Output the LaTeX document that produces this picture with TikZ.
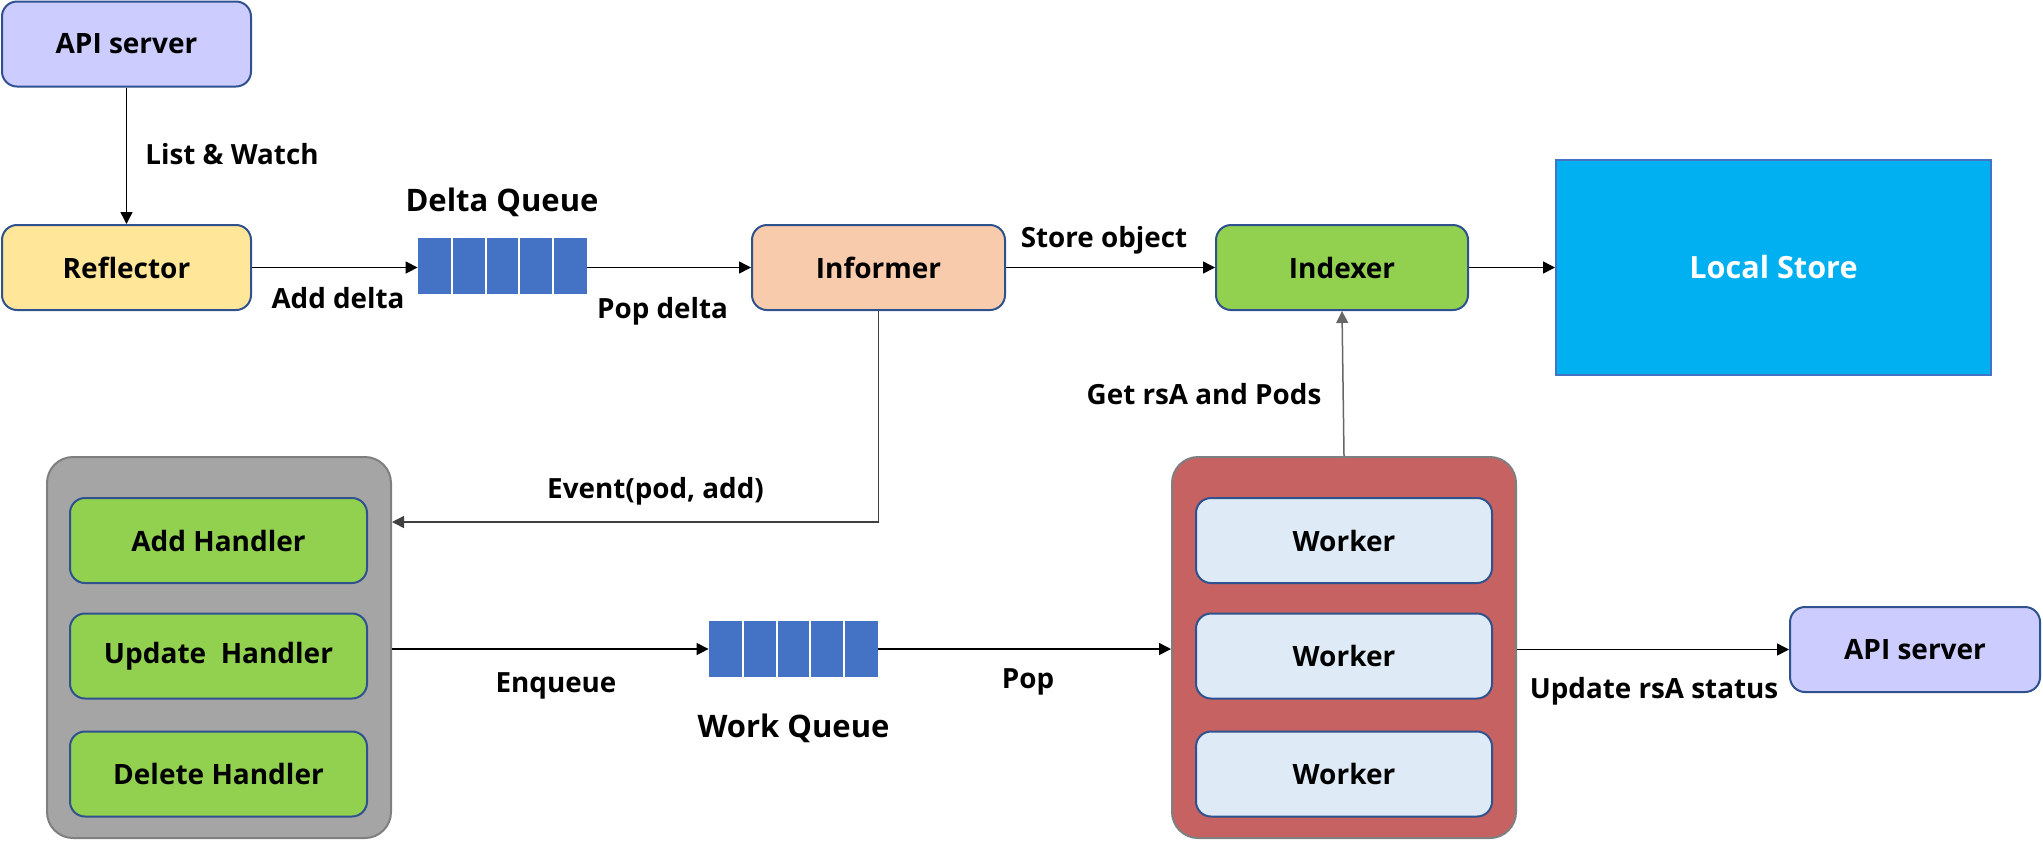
\documentclass[tikz,border=0pt]{standalone}
\usepackage{fontspec}
\setmainfont{Open Sans}
\usetikzlibrary{arrows.meta,calc}
\definecolor{apiF}{HTML}{CCCCFF}
\definecolor{reflF}{HTML}{FFE699}
\definecolor{infF}{HTML}{F8CBAD}
\definecolor{grnF}{HTML}{92D050}
\definecolor{storeF}{HTML}{00B0F0}
\definecolor{qF}{HTML}{4472C4}
\definecolor{bdr}{HTML}{2F528F}
\definecolor{grayF}{HTML}{A5A5A5}
\definecolor{redF}{HTML}{C66262}
\definecolor{contB}{HTML}{7F7F7F}
\definecolor{wrkF}{HTML}{DEEBF7}
\tikzset{
  box/.style={draw=bdr, line width=1pt, rounded corners=7.5pt, inner sep=0pt,
    font=\fontsize{14}{17}\selectfont\bfseries, minimum height=42.5pt},
  cont/.style={draw=contB, line width=1pt, rounded corners=13pt, inner sep=0pt},
  queue/.style={fill=qF, inner sep=0pt, minimum width=84.5pt, minimum height=28pt},
  lbl/.style={anchor=base, inner sep=0pt, font=\fontsize{13.9}{16}\selectfont\bfseries},
  ttl/.style={anchor=base, inner sep=0pt, font=\fontsize{15.5}{18}\selectfont\bfseries},
  arr/.style={draw=black, line width=0.75pt, -{Triangle[length=6pt,width=6pt]}},
}
\begin{document}
\begin{tikzpicture}[x=0.5pt,y=-0.5pt]
\useasboundingbox (0,0) rectangle (2043,842);
% top row
\node[box, fill=apiF, minimum width=124.5pt] (api1) at (126.5,44) {API server};
\node[box, fill=reflF, minimum width=124.5pt] (refl) at (126.5,267.5) {Reflector};
\node[queue] (dq) at (502.5,266) {};
\node[box, fill=infF, minimum width=126.5pt] (inf) at (878.5,267.5) {Informer};
\node[box, fill=grnF, minimum width=126pt] (idx) at (1342,267.5) {Indexer};
\node[draw=qF, line width=1pt, fill=storeF, inner sep=0pt, minimum width=217.5pt, minimum height=107.5pt,
  text=white, font=\fontsize{15.3}{18}\selectfont\bfseries] (store) at (1773.5,267.5) {Local Store};
% containers
\node[cont, fill=grayF, minimum width=172pt, minimum height=190.5pt] (gray) at (219,647.5) {};
\node[box, fill=grnF, minimum width=148.5pt] (h1) at (218.5,540.5) {Add Handler};
\node[box, fill=grnF, minimum width=148.5pt] (h2) at (218.5,656) {Update\ \ Handler};
\node[box, fill=grnF, minimum width=148.5pt] (h3) at (218.5,774) {Delete Handler};
\node[queue] (wq) at (793.5,649) {};
\node[cont, fill=redF, minimum width=172pt, minimum height=190.5pt] (red) at (1344,647.5) {};
\node[box, fill=wrkF, minimum width=148pt] (w1) at (1344,540.5) {Worker};
\node[box, fill=wrkF, minimum width=148pt] (w2) at (1344,656) {Worker};
\node[box, fill=wrkF, minimum width=148pt] (w3) at (1344,774) {Worker};
\node[box, fill=apiF, minimum width=125pt] (api2) at (1915,649.5) {API server};
% queue cell separators
\foreach \q in {dq,wq}{
  \foreach \i in {1,...,4}{
    \draw[white, line width=1pt] ($(\q.north west)!\i/5!(\q.north east)$) -- ($(\q.south west)!\i/5!(\q.south east)$);
  }
}
% labels
\node[lbl] (lw) at (232,164) {List \& Watch};
\node[lbl] (ad) at (338,308) {Add delta};
\node[ttl] (dqt) at (502,211) {Delta Queue};
\node[lbl] (pd) at (662.5,318) {Pop delta};
\node[lbl] (so) at (1104,247) {Store object};
\node[lbl] (gr) at (1204,404) {Get rsA and Pods};
\node[lbl] (ev) at (655.5,498) {Event(pod, add)};
\node[lbl] (enq) at (556,692) {Enqueue};
\node[ttl] (wqt) at (793.5,737) {Work Queue};
\node[lbl] (pop) at (1028,688) {Pop};
\node[lbl] (ups) at (1654,698) {Update rsA status};
% connectors
\coordinate (evy) at (0,522);
\draw[arr] (api1.south) -- (refl.north);
\draw[arr] (refl.east) -- (refl.east -| dq.west);
\draw[arr] (inf.west -| dq.east) -- (inf.west);
\draw[arr] (inf.east) -- (idx.west);
\draw[arr] (idx.east) -- (store.west);
\draw[arr, draw=black!60] (red.north) -- (idx.south);
\draw[arr, draw=black!75] (inf.south) |- (gray.east |- evy);
\draw[arr] (gray.east |- wq.west) -- (wq.west);
\draw[arr] (wq.east) -- (wq.east -| red.west);
\draw[arr] (red.east |- api2.west) -- (api2.west);
\end{tikzpicture}
\end{document}
